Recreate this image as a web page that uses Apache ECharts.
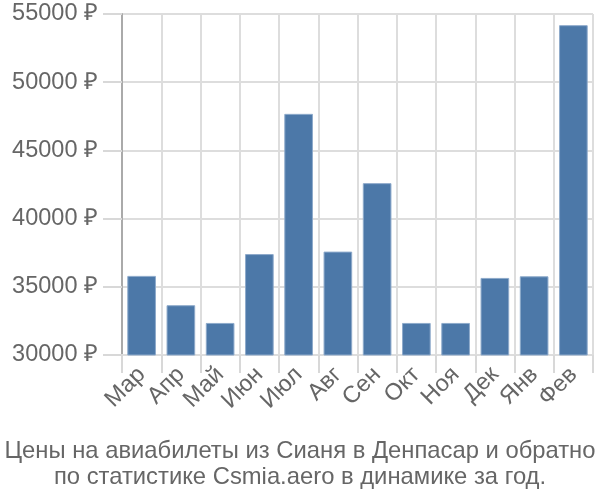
<!DOCTYPE html>
<html><head><meta charset="utf-8">
<script src="https://cdn.jsdelivr.net/npm/echarts@6/dist/echarts.min.js"></script>
<style>html,body{margin:0;padding:0;background:#fff}#c{width:600px;height:500px}</style>
</head><body><div id="c"></div>
<script>
var categories = ["Мар","Апр","Май","Июн","Июл","Авг","Сен","Окт","Ноя","Дек","Янв","Фев"];
var prices = [35800, 33650, 32350, 37400, 47680, 37580, 42600, 32350, 32350, 35650, 35770, 54180];
var titleLines = ["Цены на авиабилеты из Сианя в Денпасар и обратно", "по статистике Csmia.aero в динамике за год."];
var yMin = 30000, yMax = 55000, yStep = 5000;

var chart = echarts.init(document.getElementById('c'), null, {renderer:'canvas'});
chart.setOption({
  animation: false,
  title: {
    text: titleLines.join('\n'),
    left: 'center', top: 433,
    textStyle: {fontFamily: 'Liberation Sans', fontSize: 23.8, fontWeight: 'normal', color: '#666', lineHeight: 26}
  },
  grid: {left: 122, right: 7, top: 14, bottom: 145},
  xAxis: {
    type: 'category', data: categories,
    axisLine: {lineStyle: {color: '#ddd', width: 2}},
    axisTick: {show: true, interval: 0, length: 18, lineStyle: {color: '#d8d8d8', width: 2}},
    splitLine: {show: true, interval: 0, lineStyle: {color: '#ddd', width: 2}},
    axisLabel: {rotate: 45, interval: 0, hideOverlap: false, fontFamily: 'Liberation Sans', fontSize: 23.5, color: '#666', margin: 16}
  },
  yAxis: {
    type: 'value', min: yMin, max: yMax, interval: yStep,
    axisLine: {show: true, lineStyle: {color: '#aaa', width: 2}},
    axisTick: {show: true, length: 19, lineStyle: {color: '#d8d8d8', width: 2}},
    splitLine: {show: true, lineStyle: {color: '#ddd', width: 2}},
    axisLabel: {fontFamily: 'Liberation Sans', fontSize: 23.5, color: '#666', margin: 24,
      formatter: function(v){ return v + ' ₽'; }}
  },
  series: [{
    type: 'bar', data: prices, barCategoryGap: '27%',
    itemStyle: {color: '#4c78a8', borderColor: '#8eaacb', borderWidth: 1}
  }]
});
</script></body></html>
